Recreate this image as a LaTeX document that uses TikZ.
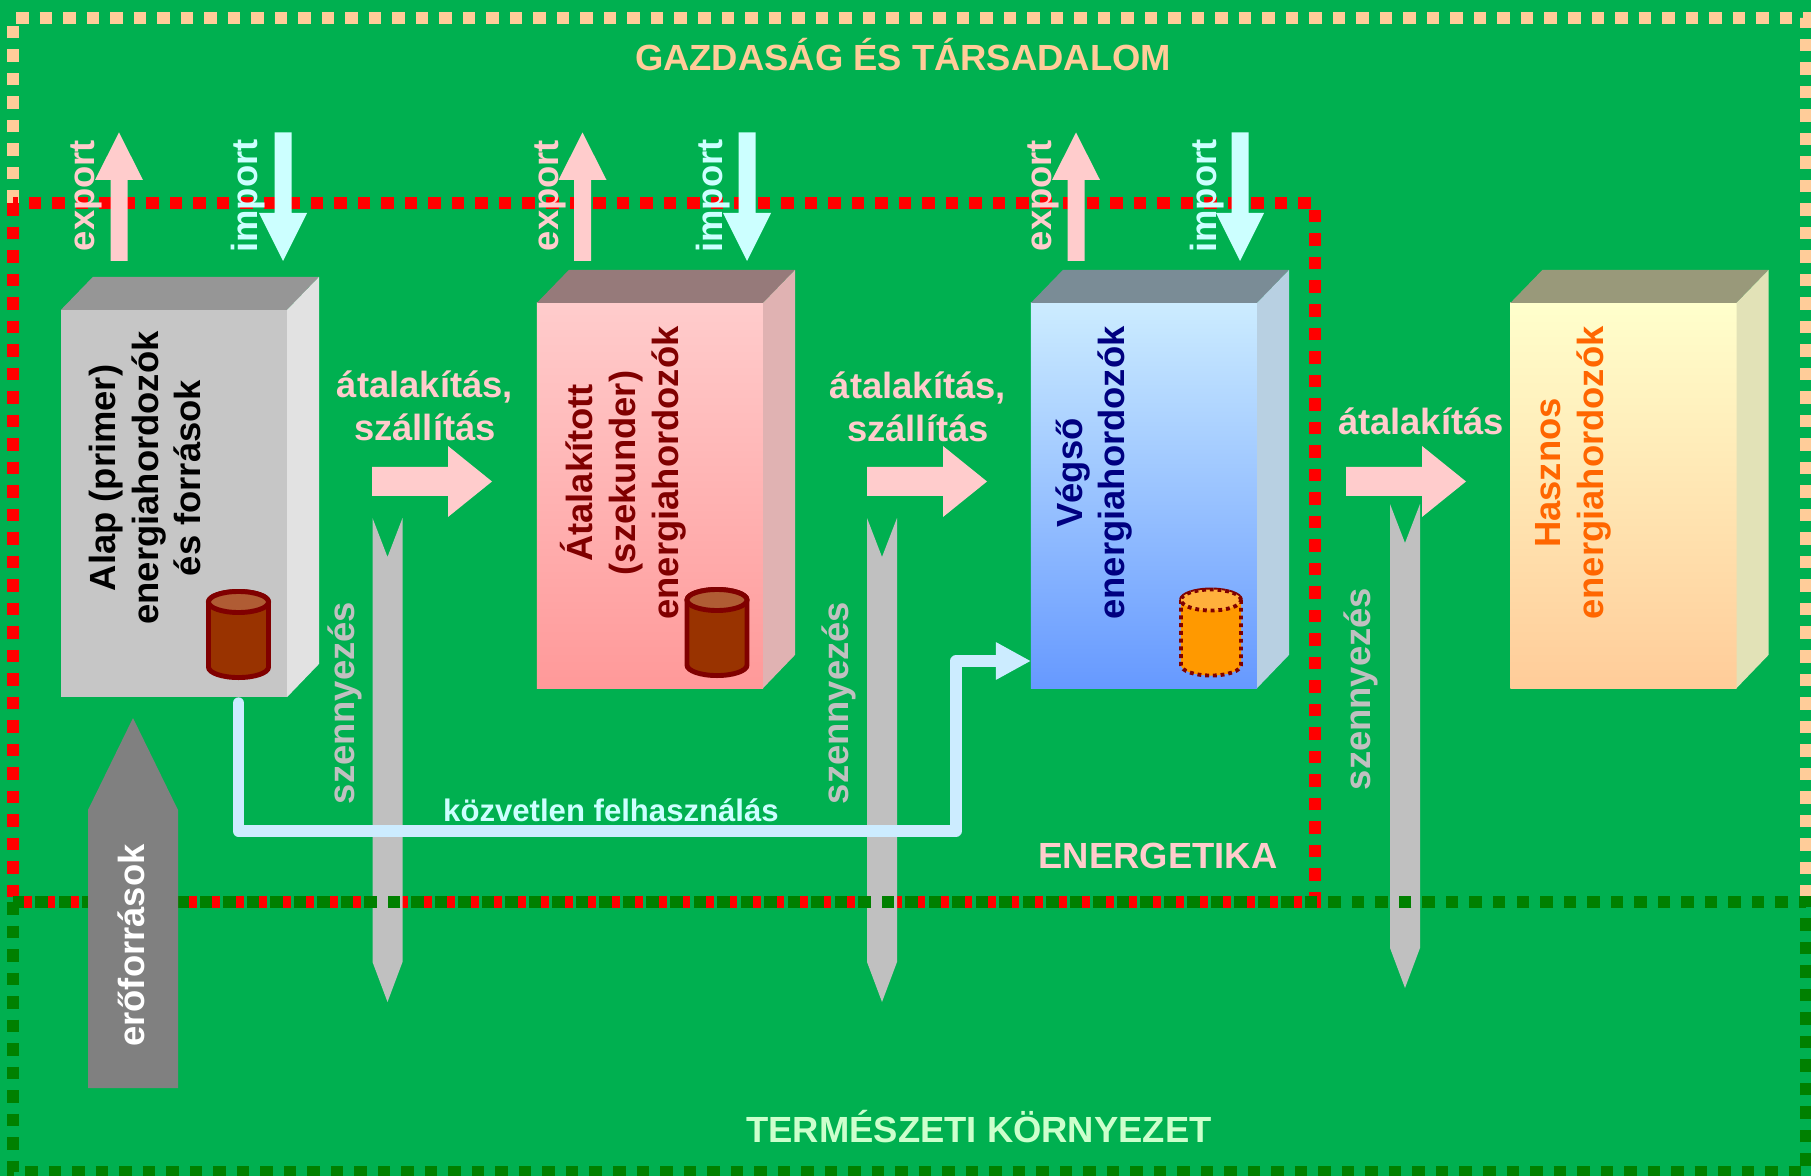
\documentclass[tikz,border=0pt]{standalone}
\usepackage{fontspec}
\setmainfont{Liberation Sans}
\usetikzlibrary{arrows.meta}

\definecolor{hatter}{RGB}{0,176,80}
\definecolor{barack}{RGB}{255,204,153}
\definecolor{sotetzold}{RGB}{0,128,0}
\definecolor{rozsa}{RGB}{255,204,204}
\definecolor{halvanykek}{RGB}{204,255,255}
\definecolor{vilagoskek}{RGB}{204,236,255}
\definecolor{szurke}{RGB}{192,192,192}
\definecolor{sotetszurke}{RGB}{128,128,128}
\definecolor{bordo}{RGB}{128,0,0}
\definecolor{halvanyzold}{RGB}{204,255,204}
\definecolor{narancs}{RGB}{255,102,0}
\definecolor{sotetkek}{RGB}{0,0,128}
\definecolor{hordotest}{RGB}{153,51,0}
\definecolor{hordoteto}{RGB}{176,92,52}
\definecolor{hordonarancs}{RGB}{255,153,0}
\definecolor{hordonarancsteto}{RGB}{255,176,60}
% dobozok: elol, felul, oldalt
\definecolor{alapelol}{RGB}{198,198,198}
\definecolor{alapfelul}{RGB}{150,150,150}
\definecolor{alapoldal}{RGB}{226,226,226}
\definecolor{atalfent}{RGB}{255,204,204}
\definecolor{atallent}{RGB}{255,153,153}
\definecolor{atalfelul}{RGB}{150,122,122}
\definecolor{ataloldal}{RGB}{224,178,178}
\definecolor{vegsofent}{RGB}{204,236,255}
\definecolor{vegsolent}{RGB}{102,153,255}
\definecolor{vegsofelul}{RGB}{122,140,150}
\definecolor{vegsooldal}{RGB}{184,208,226}
\definecolor{hasznfent}{RGB}{255,255,204}
\definecolor{hasznlent}{RGB}{255,204,153}
\definecolor{hasznfelul}{RGB}{153,153,122}
\definecolor{hasznoldal}{RGB}{226,226,183}

\newcommand{\hordo}[3]{%
  \path[#2] (#1) ++(-0.3cm,0) -- ++(0,-0.65cm)
    arc[start angle=180, end angle=360, x radius=0.3cm, y radius=0.105cm]
    -- ++(0,0.65cm)
    arc[start angle=0, end angle=180, x radius=0.3cm, y radius=0.105cm] -- cycle;
  \path[#2, fill=#3] (#1) ellipse[x radius=0.3cm, y radius=0.105cm];
}

\tikzset{
  szoveg/.style={font=\bfseries\fontsize{10.35}{12.2}\selectfont, inner sep=0pt, align=center},
  fuggo/.style={szoveg, rotate=90},
  keret/.style={line width=0.12cm, dash pattern=on 0.125cm off 0.11cm},
  elolap/.style={minimum width=2.26cm, minimum height=3.85cm, inner sep=0pt, outer sep=0pt},
  direkt/.style={vilagoskek, line width=0.115cm, line cap=round, line join=round,
    -{Triangle[length=0.35cm, width=0.35cm]}},
}

\begin{document}
\begin{tikzpicture}[x=0.01cm, y=-0.01cm]
  \useasboundingbox (0,0) rectangle (1811,1176);
  \fill[hatter] (0,0) rectangle (1811,1176);

  % keretek
  \draw[keret, barack] (13,203) -- (13,18) -- (1806,18) -- (1806,902);
  \draw[keret, red] (13,203) rectangle (1315,902);

  % energiahordozok
  \node[elolap, minimum height=3.87cm, fill=alapelol] (alap) at (174,503.5) {};
  \fill[alapfelul] (alap.north west) -- ++(32,-33) -- ++(226,0) -- (alap.north east) -- cycle;
  \fill[alapoldal] (alap.north east) -- ++(32,-33) -- ++(0,387) -- (alap.south east) -- cycle;

  \node[elolap, top color=atalfent, bottom color=atallent] (atalakitott) at (650,495.5) {};
  \fill[atalfelul] (atalakitott.north west) -- ++(32,-33) -- ++(226,0) -- (atalakitott.north east) -- cycle;
  \fill[ataloldal] (atalakitott.north east) -- ++(32,-33) -- ++(0,385) -- (atalakitott.south east) -- cycle;

  \node[elolap, top color=vegsofent, bottom color=vegsolent] (vegso) at (1144,495.5) {};
  \fill[vegsofelul] (vegso.north west) -- ++(32,-33) -- ++(226,0) -- (vegso.north east) -- cycle;
  \fill[vegsooldal] (vegso.north east) -- ++(32,-33) -- ++(0,385) -- (vegso.south east) -- cycle;

  \node[elolap, top color=hasznfent, bottom color=hasznlent] (hasznos) at (1623.5,495.5) {};
  \fill[hasznfelul] (hasznos.north west) -- ++(32,-33) -- ++(226,0) -- (hasznos.north east) -- cycle;
  \fill[hasznoldal] (hasznos.north east) -- ++(32,-33) -- ++(0,385) -- (hasznos.south east) -- cycle;

  \node[fuggo] (alapfelirat) at (145,478) {Alap (primer)\\energiahordozók\\és források};
  \node[fuggo, bordo] (atalakitottfelirat) at (623,473) {Átalakított\\(szekunder)\\energiahordozók};
  \node[fuggo, sotetkek] (vegsofelirat) at (1094,473) {Végső\\energiahordozók};
  \node[fuggo, narancs] (hasznosfelirat) at (1573,473) {Hasznos\\energiahordozók};

  % hordok
  \coordinate (hordo1) at (238.5,602);
  \coordinate (hordo2) at (717,600);
  \coordinate (hordo3) at (1211,600);
  \hordo{hordo1}{draw=bordo, line width=1.4pt, fill=hordotest}{hordoteto}
  \hordo{hordo2}{draw=bordo, line width=1.4pt, fill=hordotest}{hordoteto}
  \hordo{hordo3}{draw=bordo, line width=1.1pt, dash pattern=on 1.1pt off 1.1pt, fill=hordonarancs}{hordonarancsteto}

  % export, import
  \foreach \x in {119,582.5,1076}
    \fill[rozsa] (\x-8.5,261) -- (\x-8.5,180) -- (\x-24,180) -- (\x,132.5)
      -- (\x+24,180) -- (\x+8.5,180) -- (\x+8.5,261) -- cycle;
  \foreach \x in {283,747,1240}
    \fill[halvanykek] (\x-8.5,132.5) -- (\x+8.5,132.5) -- (\x+8.5,213) -- (\x+24,213)
      -- (\x,261) -- (\x-24,213) -- (\x-8.5,213) -- cycle;
  \foreach \x/\n in {86/1,550/2,1043/3}
    \node[fuggo, rozsa] (export\n) at (\x,195.5) {export};
  \foreach \x/\n in {248/1,713/2,1207/3}
    \node[fuggo, halvanykek] (import\n) at (\x,196) {import};

  % atalakitas
  \foreach \x in {372,867,1346}
    \fill[rozsa] (\x,467) -- (\x+76,467) -- (\x+76,446) -- (\x+120,481.5)
      -- (\x+76,517) -- (\x+76,496) -- (\x,496) -- cycle;
  \node[szoveg, rozsa] (atal1) at (425,406) {átalakítás,\\szállítás};
  \node[szoveg, rozsa] (atal2) at (918,407) {átalakítás,\\szállítás};
  \node[szoveg, rozsa] (atal3) at (1421,421) {átalakítás};

  % szennyezes
  \foreach \x/\y in {387.5/518,882/518,1405/504}
    \fill[szurke] (\x-15,\y) -- (\x,\y+39) -- (\x+15,\y) -- (\x+15,\y+444)
      -- (\x,\y+484) -- (\x-15,\y+444) -- cycle;
  \node[fuggo, szurke] (szenny1) at (345,703) {szennyezés};
  \node[fuggo, szurke] (szenny2) at (839,703) {szennyezés};
  \node[fuggo, szurke] (szenny3) at (1361,689) {szennyezés};

  \draw[keret, sotetzold] (13,902) rectangle (1806,1172);

  % eroforrasok
  \fill[sotetszurke] (88,1088) -- (88,810) -- (133,718) -- (178,810) -- (178,1088) -- cycle;
  \node[fuggo, white] (eroforras) at (131,945.5) {erőforrások};

  % kozvetlen felhasznalas
  \coordinate (kanyar) at (956,831);
  \coordinate (vegsobe) at (1031,661);
  \draw[direkt] (alap.south -| hordo1) ++(0,6) |- (kanyar) |- (vegsobe);
  \node[szoveg, halvanykek, font=\bfseries\fontsize{8.85}{10}\selectfont] (kozvetlen) at (611,810) {közvetlen felhasználás};

  % tartomanyok
  \node[szoveg, barack] (gazdasag) at (903,55) {GAZDASÁG ÉS TÁRSADALOM};
  \node[szoveg, rozsa] (energetika) at (1158,856) {ENERGETIKA};
  \node[szoveg, halvanyzold] (termeszet) at (979,1127) {TERMÉSZETI KÖRNYEZET};
\end{tikzpicture}
\end{document}
